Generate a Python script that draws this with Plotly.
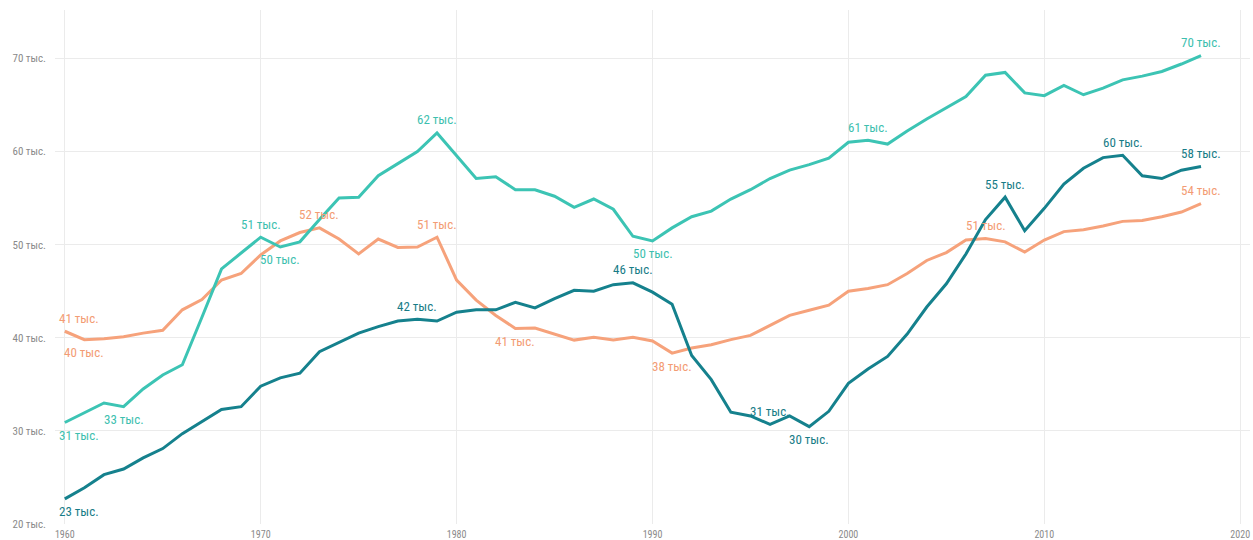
import plotly.graph_objects as go

years = list(range(1960, 2019))

teal = [30.9, 31.95, 33.0, 32.6, 34.5, 36.0, 37.1, 42.2, 47.4, 49.1,
        50.8, 49.75, 50.3, 52.7, 55.0, 55.1, 57.4, 58.7, 60.0, 62.0,
        59.6, 57.1, 57.3, 55.9, 55.9, 55.2, 54.0, 54.9, 53.8, 50.9,
        50.4, 51.8, 53.0, 53.6, 54.9, 55.9, 57.1, 58.0, 58.6, 59.3,
        61.0, 61.2, 60.8, 62.2, 63.5, 64.7, 65.9, 68.2, 68.5, 66.3,
        66.0, 67.1, 66.1, 66.8, 67.7, 68.1, 68.6, 69.4, 70.3]

dark = [22.7, 23.9, 25.3, 25.9, 27.1, 28.1, 29.7, 31.0, 32.3, 32.6,
        34.8, 35.7, 36.2, 38.5, 39.5, 40.5, 41.2, 41.8, 42.0, 41.8,
        42.75, 43.0, 43.0, 43.8, 43.2, 44.2, 45.1, 45.0, 45.7, 45.9,
        44.9, 43.6, 38.1, 35.5, 32.0, 31.6, 30.7, 31.6, 30.45, 32.1,
        35.1, 36.65, 38.0, 40.4, 43.3, 45.8, 49.0, 52.7, 55.1, 51.5,
        53.9, 56.5, 58.2, 59.35, 59.6, 57.4, 57.1, 58.0, 58.4]

orange = [40.7, 39.8, 39.9, 40.1, 40.5, 40.8, 43.0, 44.1, 46.2, 46.9,
          48.9, 50.4, 51.3, 51.8, 50.6, 49.0, 50.6, 49.7, 49.75, 50.8,
          46.2, 44.05, 42.4, 41.0, 41.05, 40.4, 39.75, 40.05, 39.75, 40.05,
          39.65, 38.35, 38.9, 39.25, 39.8, 40.25, 41.3, 42.4, 42.95, 43.5,
          45.0, 45.3, 45.7, 46.9, 48.3, 49.15, 50.5, 50.65, 50.3, 49.2,
          50.5, 51.4, 51.6, 52.0, 52.5, 52.6, 53.0, 53.5, 54.4]

teal_labels = [(1960, "bottom"), (1963, "bottom"), (1970, "top"), (1971, "bottom"),
               (1979, "top"), (1990, "bottom"), (2001, "top"), (2018, "top")]
dark_labels = [(1960, "bottom"), (1978, "top"), (1989, "top"), (1996, "top"),
               (1998, "bottom"), (2008, "top"), (2014, "top"), (2018, "top")]
orange_labels = [(1960, "top"), (1961, "bottom"), (1973, "top"), (1979, "top"),
                 (1983, "bottom"), (1991, "bottom"), (2007, "top"), (2018, "top")]

y_ticks = [20, 30, 40, 50, 60, 70]
x_ticks = [1960, 1970, 1980, 1990, 2000, 2010, 2020]

series = [
    ("orange", orange, "#F6A27B", "#F39C74", orange_labels),
    ("teal", teal, "#3CC4B4", "#3DBFAF", teal_labels),
    ("dark", dark, "#15818D", "#177C87", dark_labels),
]

LABEL_FONT = "Liberation Sans Narrow, Roboto Condensed, DejaVu Sans Condensed, Roboto, sans-serif"

fig = go.Figure()
annotations = []
for name, vals, color, lcolor, labels in series:
    fig.add_trace(go.Scatter(x=years, y=vals, mode="lines", name=name,
                             line=dict(color=color, width=3), showlegend=False))
    for yr, pos in labels:
        v = vals[years.index(yr)]
        annotations.append(dict(
            x=yr, y=v, xref="x", yref="y",
            text=f"{int(v + 0.5)} тыс.", showarrow=False,
            font=dict(family=LABEL_FONT, size=13, color=lcolor),
            xanchor="left" if yr == years[0] else "center",
            xshift=-8 if yr == years[0] else 0,
            yanchor="middle",
            yshift=13 if pos == "top" else -13,
        ))

fig.update_layout(
    width=1253, height=540,
    margin=dict(l=55, r=3, t=10, b=16),
    paper_bgcolor="white", plot_bgcolor="white",
    annotations=annotations,
    font=dict(family=LABEL_FONT),
    xaxis=dict(range=[1959.5, 2020.5], tickvals=x_ticks, ticktext=[str(t) for t in x_ticks],
               showgrid=True, gridcolor="#EBEBEB", gridwidth=1, zeroline=False,
               showline=False, ticks="", ticklabelstandoff=3, automargin=False,
               tickfont=dict(size=10, color="#8A8A8A")),
    yaxis=dict(range=[20, 75.2], tickvals=y_ticks, ticktext=[f"{t} тыс." for t in y_ticks],
               showgrid=True, gridcolor="#EBEBEB", gridwidth=1, zeroline=False,
               showline=False, ticks="", ticklabelstandoff=8, automargin=False,
               tickfont=dict(size=11, color="#8A8A8A")),
)

fig.write_html("out.html", config={"displayModeBar": False},
               post_script="document.body.style.margin='0';")
